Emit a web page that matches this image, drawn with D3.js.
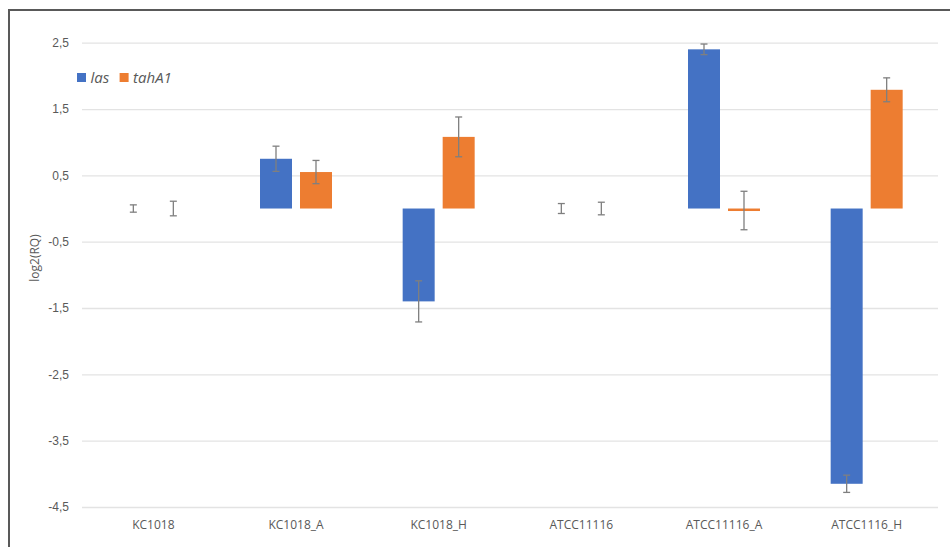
<!DOCTYPE html>
<html>
<head>
  <meta charset="utf-8">
  <title>log2(RQ) of las and tahA1</title>
  <script src="https://d3js.org/d3.v7.min.js"></script>
  <style>
    body { margin: 0; background: #fff; }
    svg { display: block; font-family: "Open Sans", sans-serif; }
  </style>
</head>
<body>
<div id="chart"></div>
<script>
// Data
const categories = ["KC1018", "KC1018_A", "KC1018_H", "ATCC11116", "ATCC11116_A", "ATCC1116_H"];
const seriesNames = ["las", "tahA1"];
const lasValues = [0, 0.75, -1.40, 0, 2.40, -4.15];
const lasErrors = [0.055, 0.19, 0.31, 0.075, 0.08, 0.13];
const tahValues = [0, 0.55, 1.08, 0, -0.03, 1.79];
const tahErrors = [0.11, 0.175, 0.30, 0.095, 0.29, 0.18];
const yTicks = [2.5, 1.5, 0.5, -0.5, -1.5, -2.5, -3.5, -4.5];

const W = 950, H = 547;
const plot = {left: 82, right: 938, top: 42.7, bottom: 507};
const colors = ["#4472c4", "#ed7d31"];

const svg = d3.select("#chart").append("svg")
  .attr("width", W)
  .attr("height", H);

// outer frame
svg.append("path")
  .attr("d", `M9,${H} L9,10 L${W},10`)
  .attr("fill", "none")
  .attr("stroke", "#595959")
  .attr("stroke-width", 2);

const x = d3.scaleBand()
  .domain(categories)
  .range([plot.left, plot.right]);

const y = d3.scaleLinear()
  .domain([-4.5, 2.5])
  .range([plot.bottom, plot.top]);

// gridlines + tick labels
const yAxis = svg.append("g")
  .attr("transform", `translate(${plot.left},0)`)
  .call(d3.axisLeft(y)
    .tickValues(yTicks)
    .tickSize(-(plot.right - plot.left))
    .tickPadding(13)
    .tickFormat(d => d3.format(".1f")(d).replace(".", ",").replace("−", "-")));
yAxis.select(".domain").remove();
yAxis.selectAll(".tick line").attr("stroke", "#e3e3e3").attr("stroke-width", 1.3);
yAxis.selectAll(".tick text")
  .attr("fill", "#595959")
  .style("font-size", "12px");

// x labels
svg.append("g")
  .selectAll("text")
  .data(categories)
  .join("text")
    .attr("x", d => x(d) + x.bandwidth() / 2)
    .attr("y", 529)
    .attr("text-anchor", "middle")
    .attr("fill", "#595959")
    .style("font-size", "12px")
    .text(d => d);

// y title
svg.append("text")
  .attr("transform", "translate(39,258) rotate(-90)")
  .attr("text-anchor", "middle")
  .attr("fill", "#595959")
  .style("font-size", "12px")
  .text("log2(RQ)");

// bars
const barW = 32, off = 20;
const series = [
  {values: lasValues, errors: lasErrors, shift: -off, color: colors[0]},
  {values: tahValues, errors: tahErrors, shift: off, color: colors[1]}
];

series.forEach(s => {
  const rows = categories.map((c, i) => ({c: c, v: s.values[i], e: s.errors[i]}));
  const cx = d => x(d.c) + x.bandwidth() / 2 + s.shift;

  svg.append("g")
    .selectAll("rect")
    .data(rows.filter(d => d.v !== 0))
    .join("rect")
      .attr("x", d => cx(d) - barW / 2)
      .attr("y", d => y(Math.max(0, d.v)))
      .attr("width", barW)
      .attr("height", d => Math.max(2.5, Math.abs(y(d.v) - y(0))))
      .attr("fill", s.color);

  // error bars
  const eb = svg.append("g")
    .attr("stroke", "#7f7f7f")
    .attr("stroke-width", 1.3);
  rows.forEach(d => {
    const x0 = cx(d);
    eb.append("line").attr("x1", x0).attr("x2", x0)
      .attr("y1", y(d.v + d.e)).attr("y2", y(d.v - d.e));
    eb.append("line").attr("x1", x0 - 3.5).attr("x2", x0 + 3.5)
      .attr("y1", y(d.v + d.e)).attr("y2", y(d.v + d.e));
    eb.append("line").attr("x1", x0 - 3.5).attr("x2", x0 + 3.5)
      .attr("y1", y(d.v - d.e)).attr("y2", y(d.v - d.e));
  });
});

// legend
const legend = svg.append("g").attr("transform", "translate(77,73)");
const legX = [0, 42.6];
seriesNames.forEach((name, i) => {
  legend.append("rect")
    .attr("x", legX[i]).attr("y", 0)
    .attr("width", 9).attr("height", 9)
    .attr("fill", colors[i]);
  legend.append("text")
    .attr("x", legX[i] + 13.5).attr("y", 9.5)
    .attr("fill", "#595959")
    .style("font-size", "15px")
    .style("font-style", "italic")
    .text(name);
});
</script>
</body>
</html>
